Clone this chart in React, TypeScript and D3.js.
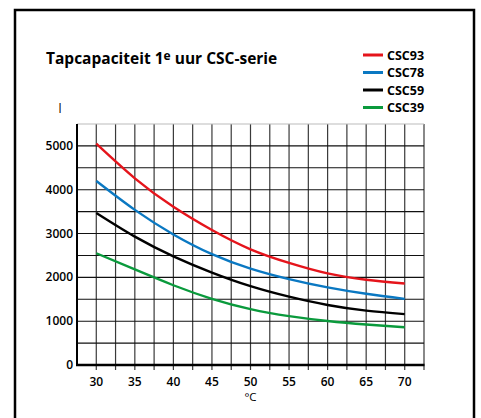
import React from 'react';
import * as d3 from 'd3';

// Tapcapaciteit 1e uur, liters per temperature
const temps = [30, 35, 40, 45, 50, 55, 60, 65, 70];
const csc93 = [5050, 4260, 3610, 3080, 2640, 2330, 2090, 1945, 1860];
const csc78 = [4200, 3540, 2980, 2530, 2200, 1960, 1770, 1625, 1510];
const csc59 = [3470, 2930, 2480, 2110, 1800, 1560, 1370, 1240, 1160];
const csc39 = [2550, 2180, 1820, 1510, 1275, 1115, 1005, 925, 860];

const seriesNames = ['CSC93', 'CSC78', 'CSC59', 'CSC39'];
const seriesValues = [csc93, csc78, csc59, csc39];
const seriesColors = ['#e5141b', '#0a78c2', '#000000', '#0a9a3c'];

const xTicks = [30, 35, 40, 45, 50, 55, 60, 65, 70];
const yTicks = [0, 1000, 2000, 3000, 4000, 5000];

const width = 481;
const height = 418;
const font = '"Open Sans", "Liberation Sans", sans-serif';

const App: React.FC = () => {
  const x = d3.scaleLinear().domain([27.5, 72.5]).range([77, 424]);
  const y = d3.scaleLinear().domain([0, 5500]).range([365, 124]);

  const vGrid = d3.range(27.5, 72.51, 2.5);
  const hGrid = d3.range(500, 5501, 500);

  const line = d3.line<number>()
    .x((_, i) => x(temps[i]))
    .y(d => y(d))
    .curve(d3.curveNatural);

  return (
    <svg width={width} height={height} style={{ position: 'absolute', left: 0, top: 0, background: '#fff' }}>
      <rect x={15} y={10} width={459} height={430} fill="none" stroke="#000" strokeWidth={2.5} />

      {/* grid */}
      {vGrid.slice(1).map(v => (
        <line key={'v' + v} x1={x(v)} x2={x(v)} y1={y(5500)} y2={y(0) + 5}
          stroke="#3a3a3a" strokeWidth={1.2} />
      ))}
      {hGrid.map(v => (
        <line key={'h' + v} x1={x(27.5)} x2={x(72.5)} y1={y(v)} y2={y(v)}
          stroke={v === 5500 ? '#bbb' : '#111'} strokeWidth={1.1} />
      ))}
      <line x1={x(27.5)} x2={x(27.5)} y1={y(5500)} y2={y(0)} stroke="#000" strokeWidth={2} />
      <line x1={x(27.5) - 1} x2={x(72.5) + 0.5} y1={y(0)} y2={y(0)} stroke="#000" strokeWidth={2.5} />

      {/* curves */}
      {seriesValues.map((vals, i) => (
        <path key={seriesNames[i]} d={line(vals) || ''} fill="none"
          stroke={seriesColors[i]} strokeWidth={2.4} />
      ))}

      {/* axes labels */}
      {yTicks.map(t => (
        <text key={'yt' + t} x={73} y={y(t) + 4} textAnchor="end"
          fontFamily={font} fontSize={12} fontWeight={600}>{t}</text>
      ))}
      {xTicks.map(t => (
        <text key={'xt' + t} x={x(t)} y={386} textAnchor="middle"
          fontFamily={font} fontSize={12} fontWeight={600}>{t}</text>
      ))}
      <text x={x(50)} y={401} textAnchor="middle" fontFamily={font} fontSize={11.5}>°C</text>
      <text x={60} y={113} textAnchor="middle" fontFamily={font} fontSize={12}>l</text>

      {/* title */}
      <text x={46} y={64} fontFamily={font} fontSize={15.5} fontWeight={700}>
        Tapcapaciteit 1<tspan fontSize={12} dy={-4}>e</tspan><tspan dy={4}> uur CSC-serie</tspan>
      </text>

      {/* legend */}
      {seriesNames.map((n, i) => (
        <g key={'lg' + n} transform={`translate(363, ${55 + i * 17.5})`}>
          <line x1={0} x2={20} y1={0} y2={0} stroke={seriesColors[i]} strokeWidth={3} />
          <text x={24} y={4.5} fontFamily={font} fontSize={12.5} fontWeight={700}>{n}</text>
        </g>
      ))}
    </svg>
  );
};

export default App;
